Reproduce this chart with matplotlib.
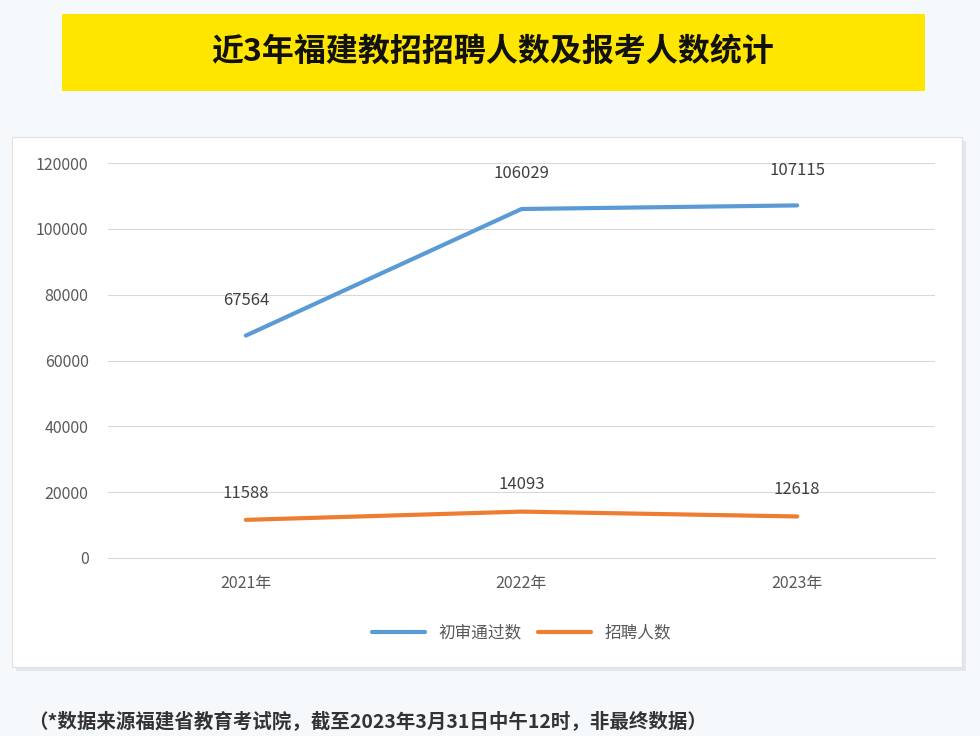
import matplotlib.pyplot as plt
from matplotlib.patches import Rectangle

plt.rcParams['font.family'] = ['Noto Sans CJK SC', 'DejaVu Sans']

# data
years = ['2021年', '2022年', '2023年']
passed = [67564, 106029, 107115]
hired = [11588, 14093, 12618]
y_ticks = [0, 20000, 40000, 60000, 80000, 100000, 120000]

W, H = 980, 736
fig = plt.figure(figsize=(W / 100, H / 100), dpi=100)
fig.patch.set_facecolor('#f6f9fc')

def fx(x): return x / W
def fy(y): return 1 - y / H

# title box
fig.patches.append(Rectangle((fx(62), fy(91)), fx(925) - fx(62), fy(14) - fy(91),
                             transform=fig.transFigure, facecolor='#ffe600', edgecolor='none', zorder=-2))
fig.text(fx(493), fy(52), '近3年福建教招招聘人数及报考人数统计', ha='center', va='center',
         fontsize=23, fontweight='heavy', color='#111111')

# panel with shadow
fig.patches.append(Rectangle((fx(16), fy(671)), fx(966) - fx(16), fy(141) - fy(671),
                             transform=fig.transFigure, facecolor='#e3e6ea', edgecolor='none', zorder=-2))
fig.patches.append(Rectangle((fx(12), fy(667)), fx(962) - fx(12), fy(137) - fy(667),
                             transform=fig.transFigure, facecolor='white', edgecolor='#e0e0e0', lw=0.8,
                             zorder=-1))

ax = fig.add_axes([fx(108), fy(558), fx(935) - fx(108), fy(163) - fy(558)])
ax.set_zorder(2)
ax.patch.set_alpha(0)
x = range(len(years))
ax.plot(x, passed, color='#5b9bd5', lw=3, label='初审通过数', solid_capstyle='round')
ax.plot(x, hired, color='#ed7d31', lw=3, label='招聘人数', solid_capstyle='round')
for xi, v in zip(x, passed):
    ax.annotate(str(v), (xi, v), xytext=(0, 22), textcoords='offset points', ha='center',
                fontsize=12, color='#404040')
for xi, v in zip(x, hired):
    ax.annotate(str(v), (xi, v), xytext=(0, 16), textcoords='offset points', ha='center',
                fontsize=12, color='#404040')

ax.set_xlim(-0.5, 2.5)
ax.set_ylim(0, 120000)
ax.set_yticks(y_ticks)
ax.set_yticklabels([str(t) for t in y_ticks])
ax.set_xticks(list(x))
ax.set_xticklabels(years)
ax.grid(axis='y', color='#d9d9d9', lw=0.8)
ax.set_axisbelow(True)
for s in ax.spines.values():
    s.set_visible(False)
ax.spines['bottom'].set_visible(True)
ax.spines['bottom'].set_color('#d9d9d9')
ax.tick_params(length=0, colors='#595959', labelsize=11.5)
ax.tick_params(axis='y', pad=14)
ax.tick_params(axis='x', pad=12)

ax.legend(loc='center', bbox_to_anchor=(0.5, -0.19), ncol=2, frameon=False,
          fontsize=12, labelcolor='#595959', handlelength=3.2, columnspacing=1.0)

fig.text(fx(28), fy(721), '（*数据来源福建省教育考试院，截至2023年3月31日中午12时，非最终数据）',
         ha='left', va='center', fontsize=14, fontweight='bold', color='#333333')

fig.savefig('out.png', dpi=100, facecolor=fig.get_facecolor())
